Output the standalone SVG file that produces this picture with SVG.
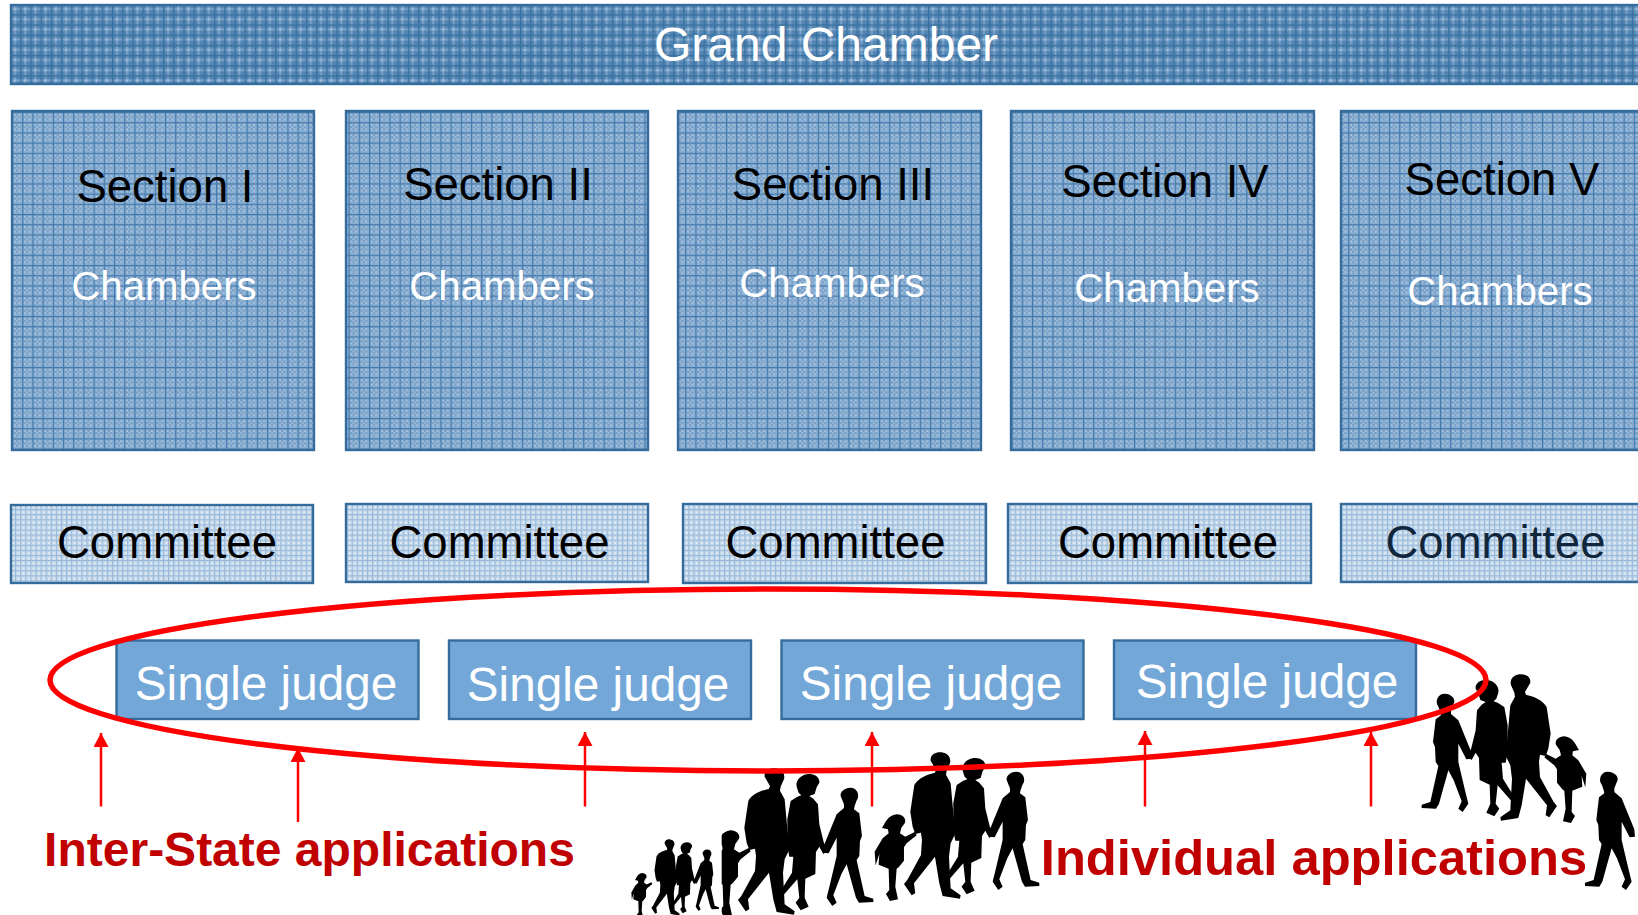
<svg xmlns="http://www.w3.org/2000/svg" xmlns:xlink="http://www.w3.org/1999/xlink" width="1638" height="915" viewBox="0 0 1638 915">
<style>
text{font-family:"Liberation Sans",Arial,sans-serif;text-anchor:middle}
.frame{stroke:#356c9c;stroke-width:2.4}
.grand{fill:url(#pGrand)}
.section{fill:url(#pSection)}
.committee{fill:url(#pCommittee)}
.judge{fill:#72a7d8}
.t48w{font-size:48px;fill:#fff}
.sj{font-size:47.7px;fill:#fff}
.t45k{font-size:45.500px;fill:#000}
.t40w{font-size:40.200px;fill:#fff}
.red{font-size:48px;font-weight:bold;fill:#c00000}
.arrow{stroke:#f00;stroke-width:2.500;fill:none;marker-end:url(#tip)}
.sil{fill:#000}
</style>
<defs>
<pattern id="pSection" width="10.2" height="10.2" patternUnits="userSpaceOnUse" x="12" y="112">
<rect width="10.2" height="10.2" fill="#8aaed2"/>
<rect x="2" y="2" width="2" height="2" fill="#adc7e0"/><rect x="6" y="2" width="2" height="2" fill="#adc7e0"/>
<rect x="4" y="4" width="2" height="2" fill="#adc7e0"/><rect x="2" y="6" width="2" height="2" fill="#adc7e0"/><rect x="6" y="6" width="2" height="2" fill="#adc7e0"/>
<rect x="4" y="2" width="2" height="2" fill="#6e99c4"/><rect x="2" y="4" width="2" height="2" fill="#6e99c4"/><rect x="6" y="4" width="2" height="2" fill="#6e99c4"/><rect x="4" y="6" width="2" height="2" fill="#6e99c4"/>
<rect width="10.2" height="1.2" fill="#4279ab"/><rect width="1.2" height="10.2" fill="#4279ab"/>
</pattern>
<pattern id="pGrand" width="10.2" height="10.2" patternUnits="userSpaceOnUse" x="10" y="4">
<rect width="10.2" height="10.2" fill="#5285b4"/>
<rect y="4" width="10.2" height="2" fill="#7aa2c8"/><rect x="4" width="2" height="10.2" fill="#7aa2c8"/>
<rect x="4" y="4" width="2" height="2" fill="#a8c4de"/>
<rect y="0" width="10.2" height="1.4" fill="#3a729f"/><rect x="0" width="1.4" height="10.2" fill="#3a729f"/>
</pattern>
<pattern id="pCommittee" width="5.1" height="5.1" patternUnits="userSpaceOnUse" x="10" y="504">
<rect width="5.1" height="5.1" fill="#c8dbed"/>
<rect width="5.1" height="1" fill="#97b8d8"/><rect width="1" height="5.1" fill="#97b8d8"/>
<rect x="2.6" y="2.6" width="1.6" height="1.6" fill="#e6eff7"/>
</pattern>
<marker id="tip" markerUnits="userSpaceOnUse" markerWidth="16" markerHeight="15" refX="14" refY="7.5" orient="auto">
<path d="M0 0L14 7.500L0 15Z" fill="#f00"/>
</marker>
<g id="man" class="sil">
<path d="M932 62C930 42 950 35 965 37C985 40 994 54 990 70L986 78L980 92L978 104L992 130L1002 240L1004 285L992 310L987 350L992 445L1022 466L1020 476L968 468L958 430L945 350L882 430L886 460L875 466L852 432L862 420L903 345L906 300L903 278L886 282L878 260L871 215L883 135C895 112 925 103 945 98L948 90Z"/>
</g>
<g id="woman" class="sil">
<path d="M1028 92C1024 70 1045 53 1067 54C1088 55 1098 68 1096 80L1088 94L1082 114L1066 120L1078 128L1092 145L1096 205L1110 262L1124 282L1108 294L1096 272L1086 288L1084 354L1054 368L1052 425L1064 452L1040 463L1025 440L1036 425L1030 370L988 418L982 402L1014 350L1018 302L1006 302L1000 270L1000 190L1010 135L1030 122L1042 118L1034 110Z"/>
</g>
<g id="boy" class="sil">
<path d="M1160 120C1158 105 1175 94 1190 95C1208 96 1215 112 1212 126L1207 136L1202 150L1200 160L1216 172L1224 240L1218 255L1216 300L1208 312L1232 420L1258 428L1258 438L1215 440L1206 425L1178 325L1162 355L1138 418L1148 440L1135 450L1118 425L1128 385L1148 300L1148 245L1124 292L1108 290L1110 268L1148 175L1170 156L1170 145Z"/>
</g>
<g id="girl" class="sil">
<path d="M786 264C796 250 802 226 830 223C852 224 860 240 854 250L844 264L840 280L856 290L884 276L890 286L860 310L852 322L852 362L836 382L830 386L826 440L834 478L810 483L798 462L808 450L806 386L776 374L778 342L767 376L764 335L788 295L806 280L804 268Z"/>
</g>
<g id="family"><use xlink:href="#man" href="#man"/><use xlink:href="#woman" href="#woman"/><use xlink:href="#boy" href="#boy"/></g>
<clipPath id="cutGirl"><rect x="721.7" y="760" width="60" height="155"/></clipPath>
</defs>

<g id="people">
<g transform="translate(620 740) scale(.3333)">
<g transform="translate(-332 279) scale(.5 .52)"><use href="#family"/></g>
<g transform="translate(-348 283) scale(.5 .52)"><use href="#girl"/></g>
<g transform="translate(-498 48)"><use href="#family"/></g>
<use href="#family"/><use href="#girl"/>
</g>
<g clip-path="url(#cutGirl)"><g transform="translate(620 740) scale(.3333) translate(-498 48)"><use href="#girl"/></g></g>
<g transform="translate(1380 640) scale(.3333) translate(1383 66) scale(-1 1)"><use href="#family"/><use href="#girl"/></g>
<g transform="translate(1380 640) scale(.3333) translate(1873 300) scale(-1 1)"><use href="#boy"/></g>
</g>

<g id="grand-chamber"><rect class="frame grand" x="11" y="5" width="1640" height="79"/><text class="t48w" x="826" y="60.500">Grand Chamber</text></g>

<g id="section-1"><rect class="frame section" x="12" y="111" width="302" height="339"/><text class="t45k" x="165" y="202">Section I</text><text class="t40w" x="164" y="300">Chambers</text></g>
<g id="section-2"><rect class="frame section" x="346" y="111" width="302" height="339"/><text class="t45k" x="498" y="200">Section II</text><text class="t40w" x="502" y="300">Chambers</text></g>
<g id="section-3"><rect class="frame section" x="678" y="111" width="303" height="339"/><text class="t45k" x="833" y="200">Section III</text><text class="t40w" x="832" y="297">Chambers</text></g>
<g id="section-4"><rect class="frame section" x="1011" y="111" width="303" height="339"/><text class="t45k" x="1165" y="197">Section IV</text><text class="t40w" x="1167" y="302">Chambers</text></g>
<g id="section-5"><rect class="frame section" x="1341" y="111" width="310" height="339"/><text class="t45k" x="1502" y="195">Section V</text><text class="t40w" x="1500" y="305">Chambers</text></g>

<g id="committee-1"><rect class="frame committee" x="11" y="505" width="302" height="78"/><text class="t45k" x="167" y="558">Committee</text></g>
<g id="committee-2"><rect class="frame committee" x="346" y="504" width="302" height="78"/><text class="t45k" x="499.500" y="558">Committee</text></g>
<g id="committee-3"><rect class="frame committee" x="683" y="504" width="303" height="79"/><text class="t45k" x="835.500" y="558">Committee</text></g>
<g id="committee-4"><rect class="frame committee" x="1008" y="504" width="303" height="79"/><text class="t45k" x="1168" y="558">Committee</text></g>
<g id="committee-5"><rect class="frame committee" x="1341" y="504" width="310" height="78"/><text class="t45k" style="fill:#10263c" x="1495.500" y="558">Committee</text></g>

<g id="judge-1"><rect class="frame judge" x="116.500" y="640.500" width="302" height="78.500"/><text class="sj" x="266" y="700">Single judge</text></g>
<g id="judge-2"><rect class="frame judge" x="449" y="640.500" width="302" height="78.500"/><text class="sj" x="598" y="701">Single judge</text></g>
<g id="judge-3"><rect class="frame judge" x="781.500" y="640.500" width="302" height="78.500"/><text class="sj" x="931" y="700">Single judge</text></g>
<g id="judge-4"><rect class="frame judge" x="1114" y="640.500" width="302" height="78.500"/><text class="sj" x="1267" y="698">Single judge</text></g>

<g id="connectors">
<path class="arrow" d="M101 806.500V733"/><path class="arrow" d="M298 822V748"/><path class="arrow" d="M585 806.500V732"/><path class="arrow" d="M872 806.500V732"/><path class="arrow" d="M1145 806.500V731"/><path class="arrow" d="M1371 806.500V732"/>
</g>

<ellipse id="ellipse" cx="768" cy="680" rx="718" ry="91" fill="none" stroke="#f00" stroke-width="5.500"/>

<g id="labels"><text class="red" x="309.500" y="866">Inter-State applications</text><text class="red" style="font-size:50.700px" x="1314" y="875">Individual applications</text></g>
</svg>
